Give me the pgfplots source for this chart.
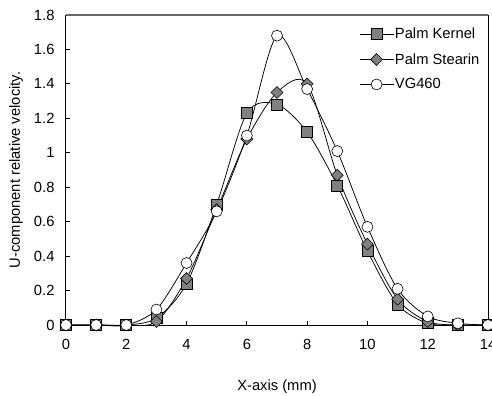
\documentclass[border=0pt]{standalone}
\usepackage{fontspec}
\setmainfont{Liberation Sans}
\usepackage{pgfplots}
\pgfplotsset{compat=1.18}
\definecolor{mkgray}{HTML}{808080}
\definecolor{topgray}{HTML}{666666}
\begin{document}
\begin{tikzpicture}
\path[use as bounding box] (-66bp,-71bp) rectangle (426bp,325bp);
\begin{axis}[
  at={(0,0)}, anchor=south west,
  scale only axis, width=422bp, height=310bp,
  xmin=0, xmax=14, ymin=0, ymax=1.8,
  xtick={0,2,...,14}, ytick={0,0.2,...,1.8},
  tick align=inside, xtick pos=left, ytick pos=left,
  major tick length=4bp,
  every tick/.style={black, line width=0.8bp},
  axis line style={draw=none},
  clip=false,
  font=\fontsize{14.8}{17}\selectfont,
  /pgf/number format/assume math mode=true,
  ticklabel style={font=\fontsize{14.8}{17}\selectfont},
  xticklabel style={yshift=-11bp},
  yticklabel style={xshift=-8bp},
  every axis x label/.style={at={(rel axis cs:0.5,0)}, yshift=-62bp, anchor=center},
  every axis y label/.style={at={(rel axis cs:0,0.5)}, xshift=-50bp, rotate=90, anchor=center},
  xlabel={X-axis (mm)},
  ylabel={U-component relative velocity.},
  legend style={at={([xshift=293bp,yshift=-12bp]rel axis cs:0,1)}, anchor=north west, draw=none, fill=none, inner sep=0pt, row sep=11bp, font=\fontsize{14.8}{17}\selectfont, nodes={inner sep=1bp}},
  legend cell align=left,
  legend image code/.code={\draw[#1, mark repeat=2, mark phase=2] plot coordinates {(0bp,0bp) (17bp,0bp) (34bp,0bp)};},
  every axis plot/.append style={black, line width=0.75bp, smooth, tension=0.5},
]
\draw[topgray, line width=1.2bp] (rel axis cs:0,1) -- (rel axis cs:1,1);
\draw[black, line width=1bp] (rel axis cs:1,1) -- (rel axis cs:1,0) -- (rel axis cs:0,0) -- (rel axis cs:0,1);
\addplot[mark=square*, mark size=5.5bp, mark options={fill=mkgray, draw=black, line width=0.6bp}] coordinates {
(0,0)(1,0)(2,0)(3,0.04)(4,0.24)(5,0.70)(6,1.23)(7,1.28)(8,1.12)(9,0.81)(10,0.43)(11,0.12)(12,0.01)(13,0)(14,0)};
\addlegendentry{Palm Kernel}
\addplot[mark=square*, mark size=4.2bp, mark options={rotate=45, fill=mkgray, draw=black, line width=0.6bp}] coordinates {
(0,0)(1,0)(2,0)(3,0.02)(4,0.27)(5,0.67)(6,1.08)(7,1.35)(8,1.40)(9,0.87)(10,0.47)(11,0.15)(12,0.02)(13,0)(14,0)};
\addlegendentry{Palm Stearin}
\addplot[mark=*, mark size=5.5bp, mark options={fill=white, draw=black, line width=0.6bp}] coordinates {
(0,0)(1,0)(2,0)(3,0.09)(4,0.36)(5,0.66)(6,1.10)(7,1.68)(8,1.37)(9,1.01)(10,0.57)(11,0.21)(12,0.05)(13,0.01)(14,0)};
\addlegendentry{VG460}
\end{axis}
\end{tikzpicture}
\end{document}
